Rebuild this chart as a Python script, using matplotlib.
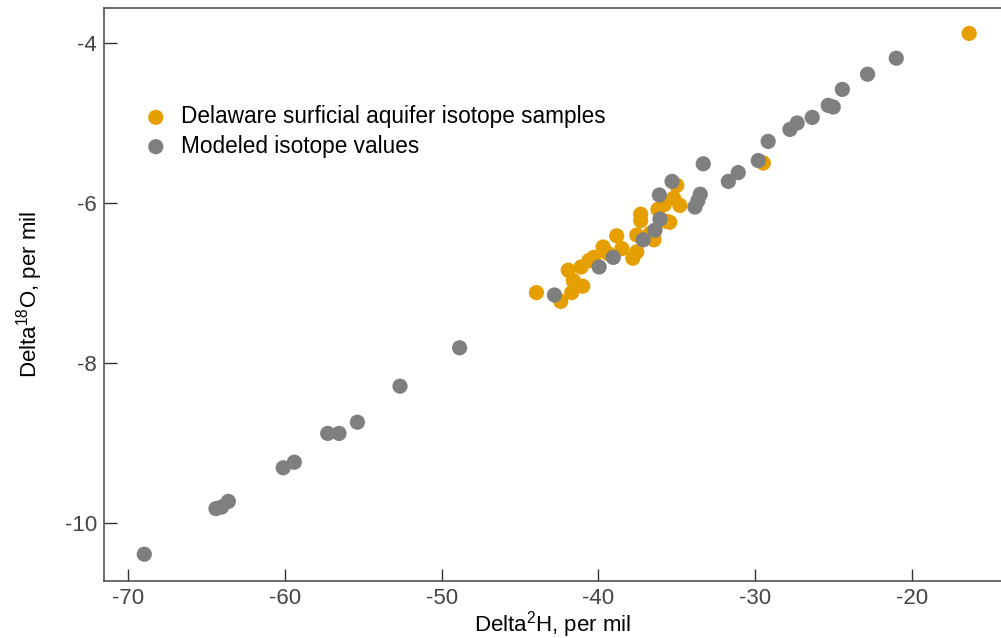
import matplotlib
matplotlib.use("Agg")
import matplotlib.pyplot as plt

plt.rcParams["font.family"] = ["Liberation Sans", "DejaVu Sans"]
plt.rcParams["mathtext.default"] = "regular"

# Delaware surficial aquifer isotope samples (delta 2H, delta 18O), per mil
sample_d2h = [-43.95, -42.4, -41.7, -41.0, -41.6, -41.92, -41.1, -40.6, -40.3,
              -39.7, -39.4, -38.83, -38.5, -37.8, -37.55, -37.55, -37.3, -37.3,
              -36.7, -36.45, -36.2, -35.8, -35.65, -35.2, -35.0, -34.8, -35.45,
              -29.48, -16.35]
sample_d18o = [-7.12, -7.23, -7.12, -7.04, -6.97, -6.84, -6.80, -6.72, -6.68,
               -6.55, -6.63, -6.41, -6.57, -6.69, -6.61, -6.40, -6.14, -6.22,
               -6.38, -6.46, -6.08, -6.02, -6.23, -5.94, -5.78, -6.03, -6.24,
               -5.50, -3.88]

# Modeled isotope values
model_d2h = [-68.96, -64.39, -64.03, -63.6, -60.1, -59.39, -57.26, -56.54, -55.37,
             -52.65, -48.85, -42.8, -39.95, -39.05, -37.14, -36.39, -36.07, -36.11,
             -35.3, -33.84, -33.65, -33.5, -33.31, -31.71, -31.08, -29.8, -29.17,
             -27.78, -27.32, -26.36, -25.34, -25.02, -24.44, -22.83, -21.0]
model_d18o = [-10.39, -9.82, -9.80, -9.73, -9.31, -9.24, -8.88, -8.88, -8.74,
              -8.29, -7.81, -7.15, -6.80, -6.68, -6.46, -6.34, -6.20, -5.90,
              -5.73, -6.05, -5.97, -5.89, -5.51, -5.73, -5.62, -5.47, -5.23,
              -5.08, -5.00, -4.93, -4.78, -4.80, -4.58, -4.39, -4.19]

x_ticks = [-70, -60, -50, -40, -30, -20]
y_ticks = [-4, -6, -8, -10]

ORANGE = "#E69F00"
GRAY = "#7F7F7F"

fig = plt.figure(figsize=(10.01, 6.38), dpi=100)
ax = fig.add_axes([104 / 1001, 1 - 581 / 638, 1 - 104 / 1001, (581 - 8) / 638])

h1 = ax.scatter(sample_d2h, sample_d18o, s=120, color=ORANGE, edgecolors="none",
                zorder=2, label="Delaware surficial aquifer isotope samples")
h2 = ax.scatter(model_d2h, model_d18o, s=120, color=GRAY, edgecolors="none",
                zorder=3, label="Modeled isotope values")

ax.set_xlim(-71.53, -14.32)
ax.set_ylim(-10.725, -3.5625)
ax.set_xticks(x_ticks)
ax.set_yticks(y_ticks)
ax.set_xticklabels([str(v) for v in x_ticks])
ax.set_yticklabels([str(v) for v in y_ticks])

ax.spines["right"].set_visible(False)
for side in ("left", "bottom", "top"):
    ax.spines[side].set_color("#444444")
    ax.spines[side].set_linewidth(1.1)

ax.tick_params(direction="in", length=9, width=1.0, color="#333333",
               labelsize=16, labelcolor="#444444", pad=5)

ax.set_xlabel("Delta$^{2}$H, per mil", fontsize=16, labelpad=0)
ax.set_ylabel("Delta$^{18}$O, per mil", fontsize=16, labelpad=14)

ax.legend(handles=[h1, h2], loc="upper left", bbox_to_anchor=(0.03, 0.846),
          frameon=False, fontsize=16.3, handlelength=1.4, handletextpad=0.4,
          labelspacing=0.28, markerscale=1.0, borderaxespad=0)

fig.savefig("out.png", dpi=100)
